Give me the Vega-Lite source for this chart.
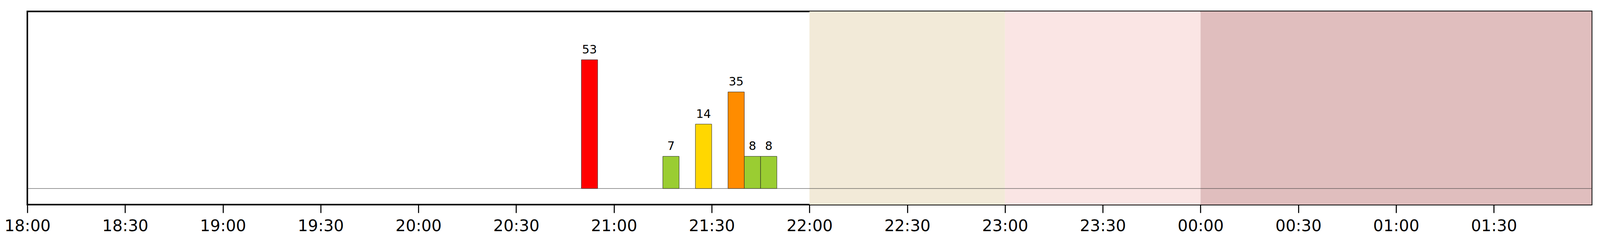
{
  "$schema": "https://vega.github.io/schema/vega-lite/v6.json",
  "width": "container",
  "height": 630,
  "autosize": {"type": "fit", "contains": "padding"},
  "padding": {"left": 10, "top": 29.3, "right": 20.5, "bottom": 31},
  "background": "white",
  "config": {
    "view": {"stroke": "black", "strokeWidth": 4},
    "font": "DejaVu Sans"
  },
  "datasets": {
    "bands": [
      {"start": "2024-01-01T22:00:00", "end": "2024-01-01T23:00:00", "band": "a"},
      {"start": "2024-01-01T23:00:00", "end": "2024-01-02T00:00:00", "band": "b"},
      {"start": "2024-01-02T00:00:00", "end": "2024-01-02T02:00:00", "band": "c"}
    ],
    "bars": [
      {"start": "2024-01-01T20:50:00", "mid": "2024-01-01T20:52:30", "end": "2024-01-01T20:55:00", "level": 4, "count": 53, "color": "red"},
      {"start": "2024-01-01T21:15:00", "mid": "2024-01-01T21:17:30", "end": "2024-01-01T21:20:00", "level": 1, "count": 7, "color": "green"},
      {"start": "2024-01-01T21:25:00", "mid": "2024-01-01T21:27:30", "end": "2024-01-01T21:30:00", "level": 2, "count": 14, "color": "yellow"},
      {"start": "2024-01-01T21:35:00", "mid": "2024-01-01T21:37:30", "end": "2024-01-01T21:40:00", "level": 3, "count": 35, "color": "orange"},
      {"start": "2024-01-01T21:40:00", "mid": "2024-01-01T21:42:30", "end": "2024-01-01T21:45:00", "level": 1, "count": 8, "color": "green"},
      {"start": "2024-01-01T21:45:00", "mid": "2024-01-01T21:47:30", "end": "2024-01-01T21:50:00", "level": 1, "count": 8, "color": "green"}
    ],
    "base": [
      {"start": "2024-01-01T18:00:00", "end": "2024-01-02T02:00:00", "v": 0}
    ]
  },
  "layer": [
    {
      "data": {"name": "bands"},
      "mark": {"type": "rect", "y": 0, "y2": {"expr": "height"}},
      "encoding": {
        "x": {
          "field": "start", "type": "temporal",
          "scale": {"domain": [{"year": 2024, "month": 1, "date": 1, "hours": 18}, {"year": 2024, "month": 1, "date": 2, "hours": 2}]},
          "axis": {
            "title": null,
            "format": "%H:%M",
            "domain": false,
            "grid": false,
            "tickColor": "black",
            "tickSize": 21,
            "tickWidth": 2.7,
            "labelFontSize": 41,
            "labelColor": "black",
            "labelFont": "DejaVu Sans",
            "labelPadding": 14,
            "labelFlush": false,
            "labelOverlap": false,
            "values": [
              {"year": 2024, "month": 1, "date": 1, "hours": 18, "minutes": 0},
              {"year": 2024, "month": 1, "date": 1, "hours": 18, "minutes": 30},
              {"year": 2024, "month": 1, "date": 1, "hours": 19, "minutes": 0},
              {"year": 2024, "month": 1, "date": 1, "hours": 19, "minutes": 30},
              {"year": 2024, "month": 1, "date": 1, "hours": 20, "minutes": 0},
              {"year": 2024, "month": 1, "date": 1, "hours": 20, "minutes": 30},
              {"year": 2024, "month": 1, "date": 1, "hours": 21, "minutes": 0},
              {"year": 2024, "month": 1, "date": 1, "hours": 21, "minutes": 30},
              {"year": 2024, "month": 1, "date": 1, "hours": 22, "minutes": 0},
              {"year": 2024, "month": 1, "date": 1, "hours": 22, "minutes": 30},
              {"year": 2024, "month": 1, "date": 1, "hours": 23, "minutes": 0},
              {"year": 2024, "month": 1, "date": 1, "hours": 23, "minutes": 30},
              {"year": 2024, "month": 1, "date": 2, "hours": 0, "minutes": 0},
              {"year": 2024, "month": 1, "date": 2, "hours": 0, "minutes": 30},
              {"year": 2024, "month": 1, "date": 2, "hours": 1, "minutes": 0},
              {"year": 2024, "month": 1, "date": 2, "hours": 1, "minutes": 30}
            ]
          }
        },
        "x2": {"field": "end"},
        "color": {
          "field": "band", "type": "nominal", "legend": null,
          "scale": {"domain": ["a", "b", "c"], "range": ["#F2EAD8", "#FAE5E4", "#E0BEBE"]}
        }
      }
    },
    {
      "data": {"name": "base"},
      "mark": {"type": "rule", "color": "#333333", "strokeWidth": 1},
      "encoding": {
        "x": {"field": "start", "type": "temporal"},
        "x2": {"field": "end"},
        "y": {"field": "v", "type": "quantitative", "scale": {"domain": [-0.5, 5.5], "nice": false, "zero": false}, "axis": null}
      }
    },
    {
      "data": {"name": "bars"},
      "mark": {"type": "bar", "stroke": "#222222", "strokeWidth": 1},
      "encoding": {
        "x": {"field": "start", "type": "temporal"},
        "x2": {"field": "end"},
        "y": {"field": "level", "type": "quantitative", "scale": {"domain": [-0.5, 5.5], "nice": false, "zero": false}, "axis": null},
        "y2": {"datum": 0},
        "color": {
          "field": "color", "type": "nominal", "legend": null,
          "scale": {"domain": ["green", "yellow", "orange", "red"], "range": ["#9ACD32", "#FFD700", "#FF8C00", "#FF0000"]}
        }
      }
    },
    {
      "data": {"name": "bars"},
      "mark": {"type": "text", "baseline": "alphabetic", "align": "center", "dy": -16, "fontSize": 30, "font": "DejaVu Sans", "color": "black"},
      "encoding": {
        "x": {"field": "mid", "type": "temporal"},
        "text": {"field": "count", "type": "quantitative"},
        "y": {"field": "level", "type": "quantitative", "scale": {"domain": [-0.5, 5.5], "nice": false, "zero": false}, "axis": null}
      }
    }
  ],
  "resolve": {"scale": {"color": "independent"}}
}
